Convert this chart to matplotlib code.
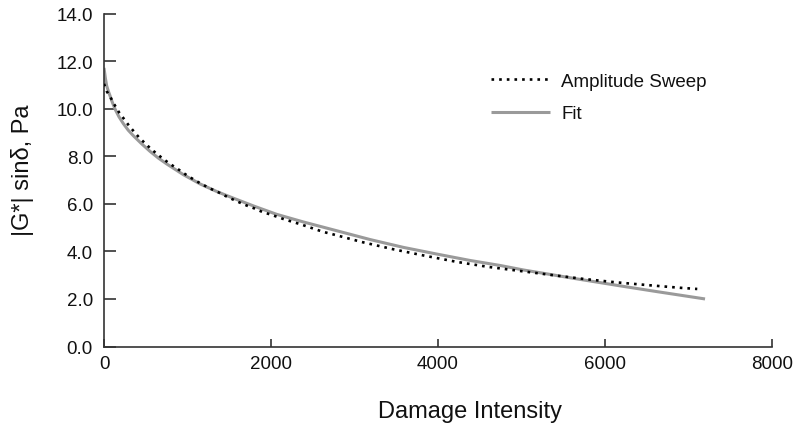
import matplotlib
matplotlib.use("Agg")
import matplotlib.pyplot as plt

# ---- data ----
sweep_x = [0, 32, 84, 132, 180, 240, 299, 359, 423, 491, 563, 638, 710, 790, 871,
           950, 1030, 1110, 1198, 1281, 1369, 1457, 1541, 1629, 1716, 1808, 1896,
           1988, 2168, 2355, 2627, 2719, 3094, 3465, 3840, 4224, 4599, 5000, 5378,
           5748, 6132, 6519, 6898, 7105]
sweep_y = [11.05, 10.74, 10.44, 10.13, 9.85, 9.57, 9.29, 9.04, 8.78, 8.55, 8.31,
           8.09, 7.89, 7.68, 7.50, 7.30, 7.12, 6.95, 6.78, 6.63, 6.49, 6.33, 6.19,
           6.05, 5.92, 5.80, 5.66, 5.56, 5.34, 5.14, 4.82, 4.74, 4.39, 4.09, 3.82,
           3.56, 3.35, 3.17, 3.00, 2.84, 2.70, 2.58, 2.47, 2.42]

fit_x = [0, 16, 32, 52, 72, 100, 132, 180, 231, 290, 351, 450, 551, 650, 751, 950,
         1150, 1350, 1549, 1800, 2068, 2387, 2787, 3186, 3585, 3984, 4383, 4743,
         5022, 5620, 6219, 6619, 7198]
fit_y = [11.72, 11.30, 10.97, 10.74, 10.55, 10.27, 9.99, 9.66, 9.38, 9.10, 8.87,
         8.53, 8.21, 7.93, 7.68, 7.23, 6.84, 6.52, 6.24, 5.90, 5.56, 5.24, 4.87,
         4.50, 4.17, 3.89, 3.62, 3.41, 3.22, 2.87, 2.53, 2.31, 2.00]

x_ticks = [0, 2000, 4000, 6000, 8000]
y_ticks = [0, 2, 4, 6, 8, 10, 12, 14]
x_label = "Damage Intensity"
y_label = "|G*| sinδ, Pa"
series_names = ["Amplitude Sweep", "Fit"]

plt.rcParams['font.family'] = ['Liberation Sans', 'DejaVu Sans']

W, H = 794, 427
fig = plt.figure(figsize=(W / 100, H / 100), dpi=100)
ax = fig.add_axes([104 / W, 1 - 347.5 / H, 668 / W, 332.8 / H])

axis_col = '#333333'
fit_line, = ax.plot(fit_x, fit_y, color='#9a9a9a', lw=2.2, zorder=2,
                    solid_capstyle='butt', solid_joinstyle='round')
sweep_line, = ax.plot(sweep_x, sweep_y, color='black', lw=1.9,
                      linestyle=(0, (1, 1.9)), zorder=3)

ax.set_xlim(0, 8000)
ax.set_ylim(0, 14)
ax.set_xticks(x_ticks)
ax.set_xticklabels([str(v) for v in x_ticks])
ax.set_yticks(y_ticks)
ax.set_yticklabels([f"{v:.1f}" for v in y_ticks])

for s in ['top', 'right']:
    ax.spines[s].set_visible(False)
for s in ['left', 'bottom']:
    ax.spines[s].set_color(axis_col)
    ax.spines[s].set_linewidth(1.2)

ax.tick_params(axis='x', direction='in', length=5.5, width=1.2, color=axis_col,
               labelsize=13.5, pad=6, labelcolor='#111111')
ax.tick_params(axis='y', direction='in', length=8.5, width=1.2, color=axis_col,
               labelsize=13.5, pad=8, labelcolor='#111111')

ax.set_xlabel(x_label, fontsize=17, color='#111111')
ax.xaxis.set_label_coords((470 - 104) / 668, (347.5 - 411.7) / 332.8)
ax.xaxis.label.set_va('center')
ax.set_ylabel(y_label, fontsize=17, color='#111111')
ax.yaxis.set_label_coords((22 - 104) / 668, (347.5 - 170) / 332.8)
ax.yaxis.label.set_va('center')

leg = ax.legend([sweep_line, fit_line], series_names, loc='upper left',
                bbox_to_anchor=(490.7 / W, 1 - 73.5 / H), bbox_transform=fig.transFigure,
                frameon=False, fontsize=13.5, handlelength=3.15, handletextpad=0.62,
                labelspacing=0.82, borderpad=0, borderaxespad=0)
for t in leg.get_texts():
    t.set_color('#111111')

fig.savefig("out.png", dpi=100)
